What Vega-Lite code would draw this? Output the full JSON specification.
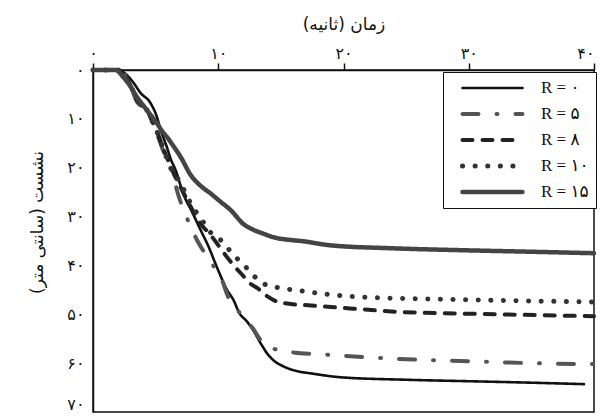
{
  "$schema": "https://vega.github.io/schema/vega-lite/v6.json",
  "width": 501,
  "height": 342,
  "autosize": "none",
  "padding": {"left": 93, "top": 70, "right": 6, "bottom": 4},
  "background": "white",
  "config": {
    "view": {"stroke": "#111", "strokeWidth": 1.5},
    "axis": {"domainColor": "#111", "domainWidth": 1.5, "tickColor": "#111", "tickWidth": 1.5, "grid": false, "labelColor": "#111", "titleColor": "#111", "labelFont": "DejaVu Sans", "titleFont": "DejaVu Sans", "titleFontWeight": "normal"}
  },
  "data": {"values": [
    {"t":0,"s":0,"R":"R = ۰"},{"t":1,"s":0,"R":"R = ۰"},{"t":2,"s":0,"R":"R = ۰"},{"t":2.6,"s":0.8,"R":"R = ۰"},{"t":3.2,"s":2.5,"R":"R = ۰"},{"t":3.8,"s":4.7,"R":"R = ۰"},{"t":4.6,"s":6.8,"R":"R = ۰"},{"t":5.1,"s":9.6,"R":"R = ۰"},{"t":5.4,"s":12.3,"R":"R = ۰"},{"t":5.9,"s":15.8,"R":"R = ۰"},{"t":6.2,"s":18.2,"R":"R = ۰"},{"t":6.6,"s":20.5,"R":"R = ۰"},{"t":7.2,"s":25.3,"R":"R = ۰"},{"t":7.9,"s":29,"R":"R = ۰"},{"t":8.6,"s":32.8,"R":"R = ۰"},{"t":9.2,"s":36,"R":"R = ۰"},{"t":9.9,"s":40.4,"R":"R = ۰"},{"t":10.7,"s":45,"R":"R = ۰"},{"t":11.2,"s":47,"R":"R = ۰"},{"t":11.7,"s":49.8,"R":"R = ۰"},{"t":12.3,"s":51.5,"R":"R = ۰"},{"t":12.8,"s":53.3,"R":"R = ۰"},{"t":13.4,"s":56,"R":"R = ۰"},{"t":13.9,"s":58,"R":"R = ۰"},{"t":14.4,"s":59.4,"R":"R = ۰"},{"t":15,"s":60.4,"R":"R = ۰"},{"t":15.5,"s":61,"R":"R = ۰"},{"t":16.4,"s":61.7,"R":"R = ۰"},{"t":17.4,"s":62.1,"R":"R = ۰"},{"t":19.8,"s":62.9,"R":"R = ۰"},{"t":25,"s":63.4,"R":"R = ۰"},{"t":30,"s":63.7,"R":"R = ۰"},{"t":35,"s":64,"R":"R = ۰"},{"t":39.2,"s":64.3,"R":"R = ۰"},
    {"t":0,"s":0,"R":"R = ۵"},{"t":1,"s":0,"R":"R = ۵"},{"t":2,"s":0,"R":"R = ۵"},{"t":2.5,"s":0.9,"R":"R = ۵"},{"t":3,"s":3.2,"R":"R = ۵"},{"t":3.5,"s":6.5,"R":"R = ۵"},{"t":4.3,"s":8.2,"R":"R = ۵"},{"t":4.8,"s":10.9,"R":"R = ۵"},{"t":5.1,"s":13,"R":"R = ۵"},{"t":5.5,"s":15.8,"R":"R = ۵"},{"t":5.9,"s":18.4,"R":"R = ۵"},{"t":6.4,"s":21.5,"R":"R = ۵"},{"t":6.7,"s":24.6,"R":"R = ۵"},{"t":7.5,"s":30.3,"R":"R = ۵"},{"t":8.3,"s":34.8,"R":"R = ۵"},{"t":9.4,"s":39.3,"R":"R = ۵"},{"t":10.3,"s":43,"R":"R = ۵"},{"t":10.8,"s":46.5,"R":"R = ۵"},{"t":11.5,"s":49,"R":"R = ۵"},{"t":12.2,"s":51.2,"R":"R = ۵"},{"t":12.8,"s":53,"R":"R = ۵"},{"t":13.3,"s":55,"R":"R = ۵"},{"t":14,"s":56.6,"R":"R = ۵"},{"t":15,"s":57.4,"R":"R = ۵"},{"t":16,"s":57.8,"R":"R = ۵"},{"t":18.2,"s":58.2,"R":"R = ۵"},{"t":20,"s":58.5,"R":"R = ۵"},{"t":25,"s":59.2,"R":"R = ۵"},{"t":30,"s":59.6,"R":"R = ۵"},{"t":35,"s":60,"R":"R = ۵"},{"t":40,"s":60.2,"R":"R = ۵"},
    {"t":0,"s":0,"R":"R = ۸"},{"t":1,"s":0,"R":"R = ۸"},{"t":2,"s":0,"R":"R = ۸"},{"t":2.5,"s":0.9,"R":"R = ۸"},{"t":3,"s":3.2,"R":"R = ۸"},{"t":3.5,"s":6,"R":"R = ۸"},{"t":4.3,"s":8.2,"R":"R = ۸"},{"t":4.8,"s":10.9,"R":"R = ۸"},{"t":5.2,"s":13.2,"R":"R = ۸"},{"t":5.6,"s":16,"R":"R = ۸"},{"t":6,"s":18.5,"R":"R = ۸"},{"t":6.5,"s":21.5,"R":"R = ۸"},{"t":7,"s":24,"R":"R = ۸"},{"t":7.8,"s":28,"R":"R = ۸"},{"t":8.6,"s":31.5,"R":"R = ۸"},{"t":9.4,"s":33.8,"R":"R = ۸"},{"t":10.1,"s":36.2,"R":"R = ۸"},{"t":10.7,"s":38.3,"R":"R = ۸"},{"t":11.8,"s":41.6,"R":"R = ۸"},{"t":12.7,"s":44,"R":"R = ۸"},{"t":13.1,"s":44.6,"R":"R = ۸"},{"t":13.9,"s":46.3,"R":"R = ۸"},{"t":14.5,"s":47.2,"R":"R = ۸"},{"t":15.5,"s":47.8,"R":"R = ۸"},{"t":17.4,"s":48.2,"R":"R = ۸"},{"t":19,"s":48.5,"R":"R = ۸"},{"t":24.4,"s":49.5,"R":"R = ۸"},{"t":32.3,"s":50,"R":"R = ۸"},{"t":40,"s":50.4,"R":"R = ۸"},
    {"t":0,"s":0,"R":"R = ۱۰"},{"t":1,"s":0,"R":"R = ۱۰"},{"t":2,"s":0,"R":"R = ۱۰"},{"t":2.5,"s":0.9,"R":"R = ۱۰"},{"t":3,"s":3.2,"R":"R = ۱۰"},{"t":3.5,"s":6,"R":"R = ۱۰"},{"t":4.3,"s":8.2,"R":"R = ۱۰"},{"t":4.8,"s":10.9,"R":"R = ۱۰"},{"t":5.2,"s":13.2,"R":"R = ۱۰"},{"t":5.6,"s":16,"R":"R = ۱۰"},{"t":6.1,"s":19.5,"R":"R = ۱۰"},{"t":7,"s":23.2,"R":"R = ۱۰"},{"t":7.8,"s":27.3,"R":"R = ۱۰"},{"t":8.8,"s":31.1,"R":"R = ۱۰"},{"t":9.3,"s":33,"R":"R = ۱۰"},{"t":10.2,"s":34.8,"R":"R = ۱۰"},{"t":11.1,"s":37.5,"R":"R = ۱۰"},{"t":12.3,"s":40.6,"R":"R = ۱۰"},{"t":12.8,"s":42,"R":"R = ۱۰"},{"t":13.6,"s":43.7,"R":"R = ۱۰"},{"t":14.7,"s":44.5,"R":"R = ۱۰"},{"t":16.3,"s":45.1,"R":"R = ۱۰"},{"t":18.7,"s":45.9,"R":"R = ۱۰"},{"t":21.7,"s":46.5,"R":"R = ۱۰"},{"t":29.7,"s":47,"R":"R = ۱۰"},{"t":40,"s":47.5,"R":"R = ۱۰"},
    {"t":0,"s":0,"R":"R = ۱۵"},{"t":1,"s":0,"R":"R = ۱۵"},{"t":1.8,"s":0,"R":"R = ۱۵"},{"t":2.4,"s":1.4,"R":"R = ۱۵"},{"t":3,"s":3.4,"R":"R = ۱۵"},{"t":3.5,"s":5.5,"R":"R = ۱۵"},{"t":4.3,"s":8.2,"R":"R = ۱۵"},{"t":5.1,"s":10.9,"R":"R = ۱۵"},{"t":5.6,"s":12.8,"R":"R = ۱۵"},{"t":5.9,"s":13.7,"R":"R = ۱۵"},{"t":6.4,"s":15.5,"R":"R = ۱۵"},{"t":7,"s":17.8,"R":"R = ۱۵"},{"t":7.8,"s":21.5,"R":"R = ۱۵"},{"t":8.5,"s":23.5,"R":"R = ۱۵"},{"t":9.4,"s":25.3,"R":"R = ۱۵"},{"t":10.2,"s":27,"R":"R = ۱۵"},{"t":11,"s":28.7,"R":"R = ۱۵"},{"t":12,"s":31.5,"R":"R = ۱۵"},{"t":12.8,"s":32.7,"R":"R = ۱۵"},{"t":13.6,"s":33.5,"R":"R = ۱۵"},{"t":14.5,"s":34.3,"R":"R = ۱۵"},{"t":15.8,"s":34.8,"R":"R = ۱۵"},{"t":16.6,"s":35,"R":"R = ۱۵"},{"t":19,"s":35.9,"R":"R = ۱۵"},{"t":24,"s":36.5,"R":"R = ۱۵"},{"t":29.7,"s":36.9,"R":"R = ۱۵"},{"t":35,"s":37.2,"R":"R = ۱۵"},{"t":40,"s":37.5,"R":"R = ۱۵"}
  ]},
  "mark": {"type": "line", "strokeCap": "round", "strokeJoin": "round", "interpolate": "monotone"},
  "encoding": {
    "x": {"field": "t", "type": "quantitative", "scale": {"domain": [0, 40], "nice": false},
      "axis": {"orient": "top", "title": "زمان (ثانیه)", "values": [0, 10, 20, 30, 40],
        "labelExpr": "['۰','۱۰','۲۰','۳۰','۴۰'][round(datum.value/10)]",
        "labelAlign": {"condition": {"test": "datum.value == 40", "value": "right"}, "value": "center"},
        "tickSize": 7, "labelFontSize": 16, "labelPadding": 2, "titleFontSize": 17, "titlePadding": 12, "labelFlush": false}},
    "y": {"field": "s", "type": "quantitative", "scale": {"domain": [0, 70], "reverse": true, "nice": false},
      "axis": {"title": "نشست (سانتی متر)", "values": [0, 10, 20, 30, 40, 50, 60, 70],
        "labelExpr": "['۰','۱۰','۲۰','۳۰','۴۰','۵۰','۶۰','۷۰'][round(datum.value/10)]",
        "labelBaseline": {"condition": {"test": "datum.value == 70", "value": "bottom"}, "value": "middle"},
        "ticks": false, "labelPadding": 9, "labelFontSize": 16, "titleFontSize": 17, "titlePadding": 20, "titleY": 152, "labelFlush": false}},
    "color": {"field": "R", "type": "nominal",
      "scale": {"domain": ["R = ۰", "R = ۵", "R = ۸", "R = ۱۰", "R = ۱۵"], "range": ["#111111", "#555555", "#222222", "#333333", "#444444"]},
      "legend": {"title": null, "orient": "none", "legendX": 350, "legendY": 2, "strokeColor": "#111", "fillColor": "white", "padding": 7, "symbolType": "stroke", "symbolSize": 3600, "clipHeight": 18, "symbolOffset": 10, "labelOffset": 16, "labelFontSize": 17, "labelFont": "Liberation Serif, DejaVu Sans", "labelColor": "#111", "rowPadding": 8,
        "encode": {"symbols": {"update": {"strokeCap": {"value": "round"}}}}}},
    "strokeDash": {"field": "R", "type": "nominal",
      "scale": {"domain": ["R = ۰", "R = ۵", "R = ۸", "R = ۱۰", "R = ۱۵"], "range": [[1, 0], [16, 18, 1, 18], [10, 10], [0.1, 12.5], [1, 0]]},
      "legend": {"title": null, "orient": "none", "legendX": 350, "legendY": 2}},
    "strokeWidth": {"field": "R", "type": "nominal",
      "scale": {"type": "ordinal", "domain": ["R = ۰", "R = ۵", "R = ۸", "R = ۱۰", "R = ۱۵"], "range": [2.6, 4, 4, 5, 4.5]},
      "legend": {"title": null, "orient": "none", "legendX": 350, "legendY": 2}}
  }
}
